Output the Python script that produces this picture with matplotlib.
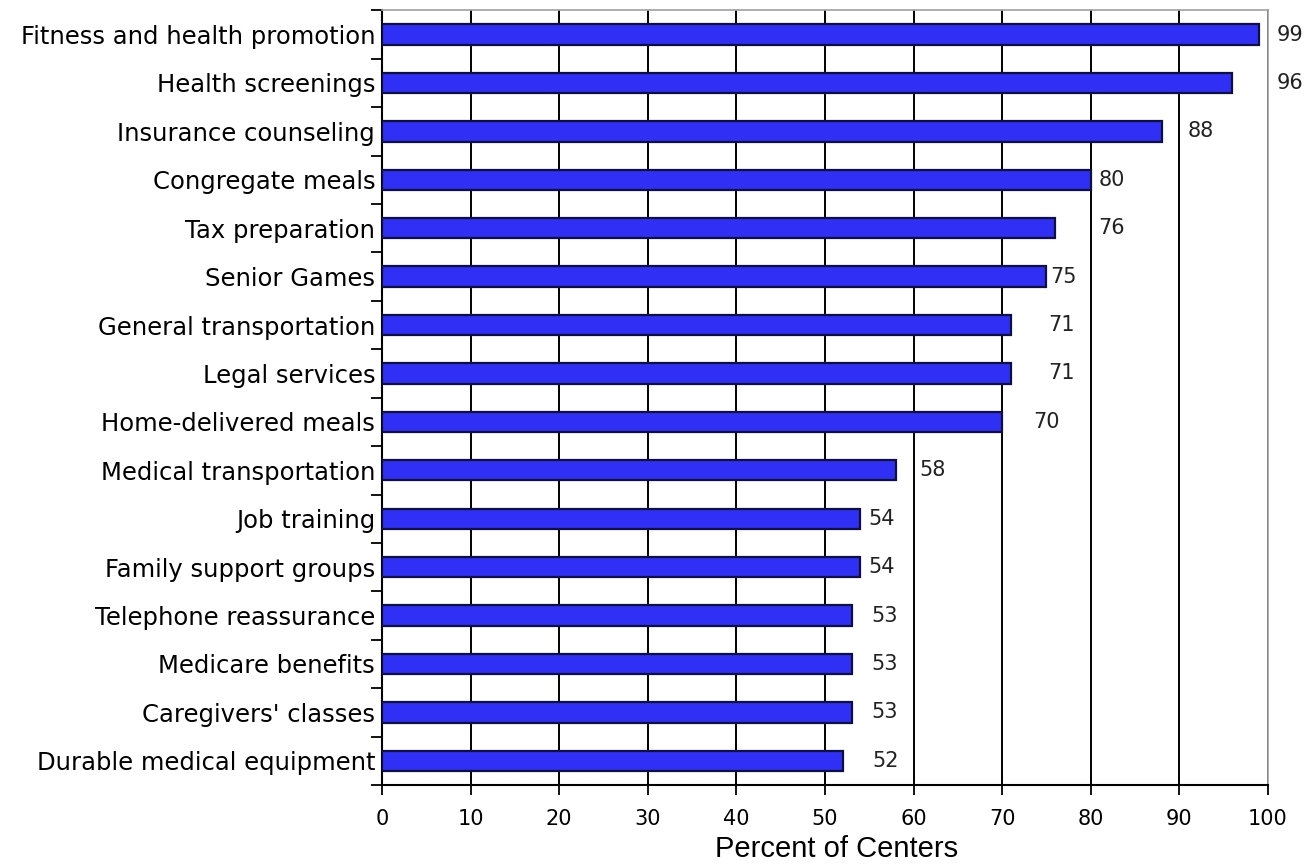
import numpy as np
import matplotlib.pyplot as plt

services = ['Fitness and health promotion', 'Health screenings', 'Insurance counseling',
            'Congregate meals', 'Tax preparation', 'Senior Games', 'General transportation',
            'Legal services', 'Home-delivered meals', 'Medical transportation', 'Job training',
            'Family support groups', 'Telephone reassurance', 'Medicare benefits',
            "Caregivers' classes", 'Durable medical equipment']
percent = [99, 96, 88, 80, 76, 75, 71, 71, 70, 58, 54, 54, 53, 53, 53, 52]
# where each value label starts along the x axis
label_x = [101.0, 101.0, 91.0, 80.9, 80.9, 75.4, 75.2, 75.2, 73.5, 60.7, 54.9, 54.9, 55.2, 55.2, 55.2, 55.4]

fig = plt.figure(figsize=(13.13, 8.64), dpi=100)
ax = fig.add_axes([0.291, 0.0914, 0.6746, 0.8966])

ind = np.arange(len(services))
ax.barh(ind, percent, height=0.42, color='#2f2ff6', edgecolor='#101040', linewidth=1.6, zorder=3)

for i in range(len(services)):
    ax.text(label_x[i], ind[i], str(percent[i]), va='center', ha='left',
            fontsize=15, family='DejaVu Sans', color='#222222')

ax.set_xlim(0, 100)
ax.set_ylim(len(services) - 0.5, -0.5)

ax.set_xticks(np.arange(0, 101, 10))
ax.tick_params(axis='x', direction='out', length=7, width=1.3, pad=10, labelsize=15)
ax.set_yticks(ind)
ax.set_yticklabels(services, fontsize=17.5)
ax.set_yticks(np.arange(-0.5, len(services), 1), minor=True)
ax.tick_params(axis='y', which='major', length=0, pad=5)
ax.tick_params(axis='y', which='minor', direction='out', length=8, width=1.3)

ax.xaxis.grid(True, color='black', linewidth=1.4, zorder=0)
ax.set_axisbelow(True)

for s in ['left', 'bottom']:
    ax.spines[s].set_color('black')
    ax.spines[s].set_linewidth(1.5)
for s in ['top', 'right']:
    ax.spines[s].set_color('#a0a0a0')
    ax.spines[s].set_linewidth(1.2)

ax.set_xlabel('Percent of Centers', fontsize=21, family='Liberation Sans')
ax.xaxis.set_label_coords(0.513, -0.064)

plt.savefig('out.png', dpi=100)
